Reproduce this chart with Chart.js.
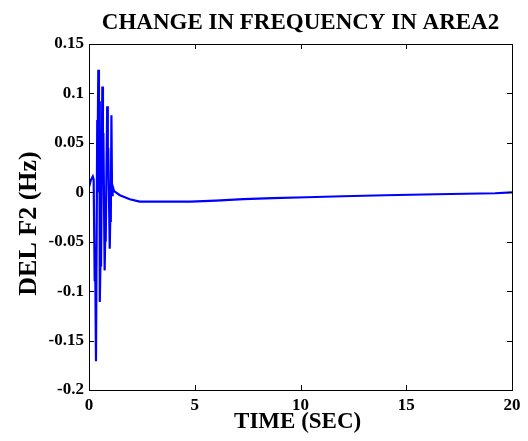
<!DOCTYPE html>
<html>
<head>
<meta charset="utf-8">
<script src="https://cdn.jsdelivr.net/npm/chart.js@4"></script>
<style>
  html, body { margin: 0; padding: 0; background: #fff; }
  #wrap { width: 528px; height: 441px; }
</style>
</head>
<body>
<div id="wrap"><canvas id="freq_chart" width="528" height="441"></canvas></div>
<script>
// time axis (sec) and frequency deviation of area 2 (Hz)
var timeSec = [0, 0.08, 0.18, 0.22, 0.27, 0.29, 0.33, 0.39, 0.41, 0.44, 0.47, 0.49, 0.51, 0.55, 0.57,
    0.63, 0.66, 0.68, 0.74, 0.77, 0.79, 0.86, 0.89, 0.91, 0.98, 1.01, 1.03, 1.06, 1.09, 1.12,
    1.16, 1.2, 1.46, 1.93, 2.4, 4.8, 6.0, 7.3, 8.7, 10.3, 12, 14, 16.4, 19.2, 20];
var delF2 = [0.005, 0.012, 0.016, 0.013, -0.09, -0.06, -0.171, 0.073, 0.05, 0.124, 0.0, 0.092, -0.111, -0.06, -0.075,
    0.107, 0.04, 0.06, -0.079, -0.04, -0.05, 0.087, 0.03, 0.045, -0.057, -0.02, -0.03, 0.078, -0.003, 0.006,
    0.003, 0.001, -0.003, -0.007, -0.0095, -0.0095, -0.0085, -0.007, -0.006, -0.005, -0.004, -0.003, -0.002, -0.001, 0.0];
var xTicks = [0, 5, 10, 15, 20];
var yTicks = [-0.2, -0.15, -0.1, -0.05, 0, 0.05, 0.1, 0.15];

var points = timeSec.map(function (t, i) {
    return {x: t, y: delF2[i]};
});

var serif = '"Liberation Serif", "Times New Roman", serif';
var tickFont = {family: serif, size: 17, weight: 'bold'};

// matlab style box with inward ticks
var boxPlugin = {
    id: 'box',
    afterDraw: function (chart) {
        var ctx = chart.ctx, a = chart.chartArea;
        var xs = chart.scales.x, ys = chart.scales.y;
        ctx.save();
        ctx.strokeStyle = '#000';
        ctx.lineWidth = 1;
        ctx.strokeRect(Math.round(a.left) + 0.5, Math.round(a.top) + 0.5,
            Math.round(a.right - a.left), Math.round(a.bottom - a.top));
        ctx.beginPath();
        xTicks.forEach(function (v) {
            var px = Math.round(xs.getPixelForValue(v)) + 0.5;
            ctx.moveTo(px, a.bottom); ctx.lineTo(px, a.bottom - 5);
            ctx.moveTo(px, a.top); ctx.lineTo(px, a.top + 5);
        });
        yTicks.forEach(function (v) {
            var py = Math.round(ys.getPixelForValue(v)) + 0.5;
            ctx.moveTo(a.left, py); ctx.lineTo(a.left + 5, py);
            ctx.moveTo(a.right, py); ctx.lineTo(a.right - 5, py);
        });
        ctx.stroke();
        ctx.restore();
    }
};

new Chart(document.getElementById('freq_chart'), {
    type: 'line',
    data: {
        datasets: [{
            data: points,
            borderColor: '#0000ff',
            borderWidth: 2.2,
            pointRadius: 0,
            tension: 0,
            fill: false
        }]
    },
    options: {
        responsive: false,
        animation: false,
        layout: {padding: {left: 0, right: 16, top: 0, bottom: 0}},
        plugins: {
            legend: {display: false},
            tooltip: {enabled: false},
            title: {
                display: true,
                fullSize: false,
                text: 'CHANGE IN FREQUENCY IN AREA2',
                color: '#000',
                font: {family: serif, size: 23, weight: 'bold', lineHeight: 1.2},
                padding: {top: 9, bottom: 7.4}
            }
        },
        scales: {
            x: {
                type: 'linear',
                min: 0,
                max: 20,
                afterBuildTicks: function (scale) {
                    scale.ticks = xTicks.map(function (v) { return {value: v}; });
                },
                afterFit: function (scale) { scale.height = 51; },
                grid: {display: false, drawTicks: false},
                border: {display: false},
                ticks: {color: '#000', font: tickFont, padding: 5, maxRotation: 0},
                // trailing space nudges the label a little left, like the original
                title: {display: true, text: 'TIME (SEC) ', color: '#000',
                    font: {family: serif, size: 23, weight: 'bold'}, padding: {top: 0, bottom: 5}}
            },
            y: {
                type: 'linear',
                min: -0.2,
                max: 0.15,
                afterBuildTicks: function (scale) {
                    scale.ticks = yTicks.map(function (v) { return {value: v}; });
                },
                afterFit: function (scale) { scale.width = 89; },
                grid: {display: false, drawTicks: false},
                border: {display: false},
                ticks: {
                    color: '#000', font: tickFont, padding: 5,
                    callback: function (v) { return String(Math.round(v * 100) / 100); }
                },
                title: {display: true, text: 'DEL F2 (Hz)  ', color: '#000',
                    font: {family: serif, size: 26, weight: 'bold'}, padding: {top: 14, bottom: 0}}
            }
        }
    },
    plugins: [boxPlugin]
});
</script>
</body>
</html>
